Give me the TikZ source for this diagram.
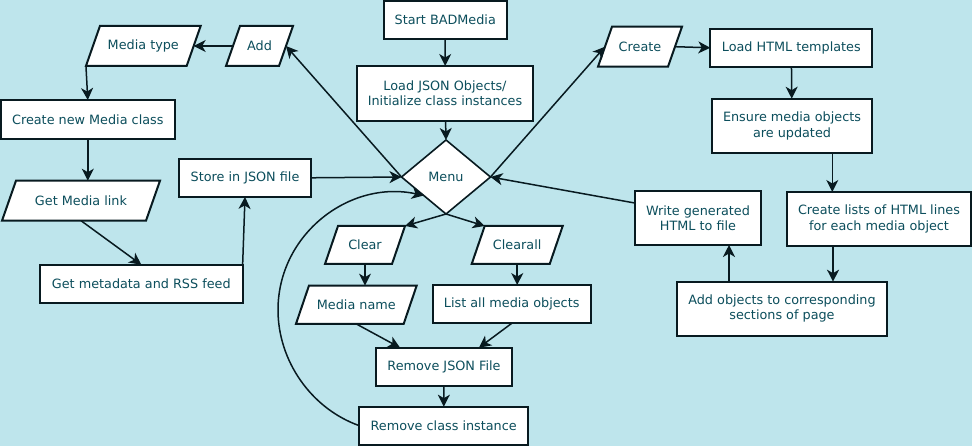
\documentclass[tikz,border=0pt]{standalone}
\usepackage{fontspec}
\setmainfont{DejaVu Sans}
\usetikzlibrary{shapes.geometric,arrows.meta,calc}
\definecolor{bgc}{RGB}{190,229,236}
\definecolor{linec}{RGB}{8,26,32}
\definecolor{textc}{RGB}{12,78,92}
\pgfdeclarelayer{bglayer}
\pgfdeclarelayer{shapelayer}
\pgfsetlayers{bglayer,shapelayer,main}
\newcommand{\paradraw}[2]{%
  \begin{pgfonlayer}{shapelayer}
  \draw[iofill] ($(#1.north east)+(#2,0)$) -- ($(#1.north west)+(#2,0)$) -- ($(#1.south west)+(-#2,0)$) -- ($(#1.south east)+(-#2,0)$) -- cycle;
  \end{pgfonlayer}}
\begin{document}
\begin{tikzpicture}[x=1pt,y=-1pt,
  every node/.style={font=\fontsize{12.8}{15.4}\selectfont, text=textc, inner sep=0pt, outer sep=0pt},
  procbox/.style={draw=linec, line width=2pt, fill=white, rectangle, align=center},
  iobox/.style={rectangle, align=center},
  iofill/.style={draw=linec, line width=2pt, fill=white, line join=miter},
  decbox/.style={draw=linec, line width=1.6pt, fill=white, diamond},
  conn/.style={draw=linec, line width=1.5pt, -{Stealth[length=12pt,width=12pt,inset=3.5pt]}},
]
\begin{pgfonlayer}{bglayer}
\fill[bgc] (0,0) rectangle (972,446);
\end{pgfonlayer}
\useasboundingbox (0,0) rectangle (972,446);

% process boxes
\node[procbox, minimum width=122.7pt, minimum height=38pt] (start) at (445.3,20) {Start BADMedia};
\node[procbox, minimum width=176pt, minimum height=55pt] (load) at (445,93.5) {Load JSON Objects/\\Initialize class instances};
\node[procbox, minimum width=173.7pt, minimum height=39pt] (newclass) at (87.8,119.5) {Create new Media class};
\node[procbox, minimum width=202.7pt, minimum height=38.6pt] (getmeta) at (141.3,284) {Get metadata and RSS feed};
\node[procbox, minimum width=131.4pt, minimum height=38.3pt] (store) at (245,177.8) {Store in JSON file};
\node[procbox, minimum width=158pt, minimum height=38.3pt] (listall) at (511.7,304.2) {List all media objects};
\node[procbox, minimum width=136pt, minimum height=38.3pt] (rmjson) at (444,366.8) {Remove JSON File};
\node[procbox, minimum width=168.7pt, minimum height=38pt] (rmclass) at (443.7,425.7) {Remove class instance};
\node[procbox, minimum width=162pt, minimum height=38.3pt] (loadhtml) at (791.3,47.8) {Load HTML templates};
\node[procbox, minimum width=160.6pt, minimum height=54.6pt] (ensure) at (792,126) {Ensure media objects\\are updated};
\node[procbox, minimum width=184pt, minimum height=54pt] (lists) at (879,219) {Create lists of HTML lines\\for each media object};
\node[procbox, minimum width=126.6pt, minimum height=54pt] (write) at (698,218) {Write generated\\HTML to file};
\node[procbox, minimum width=210pt, minimum height=54pt] (addobj) at (782,308.7) {Add objects to corresponding\\sections of page};

% decision
\node[decbox, minimum width=89pt, minimum height=74pt] (menu) at (446,177) {Menu};

% input/output boxes (parallelograms)
\node[iobox, minimum width=53pt, minimum height=40pt] (add) at (259.5,46) {Add};
\node[iobox, minimum width=100.7pt, minimum height=40pt] (mtype) at (143.3,46) {Media type};
\node[iobox, minimum width=144pt, minimum height=40pt] (getlink) at (81,200.7) {Get Media link};
\node[iobox, minimum width=67pt, minimum height=38pt] (clear) at (365,245) {Clear};
\node[iobox, minimum width=78pt, minimum height=38pt] (clearall) at (517.2,245) {Clearall};
\node[iobox, minimum width=107.7pt, minimum height=38.3pt] (mname) at (356.3,304.8) {Media name};
\node[iobox, minimum width=70pt, minimum height=40pt] (create) at (640,46.7) {Create};
\paradraw{add}{7}
\paradraw{mtype}{7}
\paradraw{getlink}{7}
\paradraw{clear}{6.5}
\paradraw{clearall}{6.5}
\paradraw{mname}{6.5}
\paradraw{create}{7}

\coordinate (loopL) at (278,310);
\coordinate (mtypeBL) at ($(mtype.south west)+(-7,0)$);
\coordinate (clearTR) at ($(clear.north east)+(6.5,0)$);
\coordinate (clearallTL) at ($(clearall.north west)+(6.5,0)$);
\coordinate (rmjsonA) at ($(rmjson.north west)+(24,0)$);
\coordinate (rmjsonB) at ($(rmjson.north east)+(-33,0)$);
\coordinate (ensureOut) at ($(ensure.south east)+(-40,0)$);
\coordinate (listsOut) at ($(lists.south west)+(46,0)$);
\coordinate (addobjOut) at ($(addobj.north west)+(52,0)$);
\coordinate (writeOut) at ($(write.west)+(0,-15)$);

% connectors
\draw[conn] (start) -- (load);
\draw[conn] (load) -- (menu.north);
\draw[conn] (menu.west) -- (add.east);
\draw[conn] (menu.east) -- (create.west);
\draw[conn] (add.west) -- (mtype.east);
\draw[conn] (mtypeBL) -- (newclass.north);
\draw[conn] (newclass.south) -- (newclass.south |- getlink.north);
\draw[conn] (getlink.south) -- (getmeta.north);
\draw[conn] (getmeta.north east) -- (store.south);
\draw[conn] (store.east) -- (menu.west);
\draw[conn] (menu.south) -- (clearTR);
\draw[conn] (menu.south) -- (clearallTL);
\draw[conn] (clear.south) -- (clear.south |- mname.north);
\draw[conn] (clearall.south) -- (clearall.south |- listall.north);
\draw[conn] (mname.south) -- (rmjsonA);
\draw[conn] (listall.south) -- (rmjsonB);
\draw[conn] (rmjson) -- (rmclass);
\draw[conn] (rmclass.west) .. controls +(-48,-17) and +(0,51) .. (loopL)
  .. controls +(0,-76) and +(-74,-16) .. (menu.south west);
\draw[conn] (create.east) -- (loadhtml.west);
\draw[conn] (loadhtml) -- (ensure);
\draw[conn] (ensureOut) -- (ensureOut |- lists.north);
\draw[conn] (listsOut) -- (listsOut |- addobj.north);
\draw[conn] (addobjOut) -- (addobjOut |- write.south);
\draw[conn] (writeOut) -- (menu.east);
\end{tikzpicture}
\end{document}
